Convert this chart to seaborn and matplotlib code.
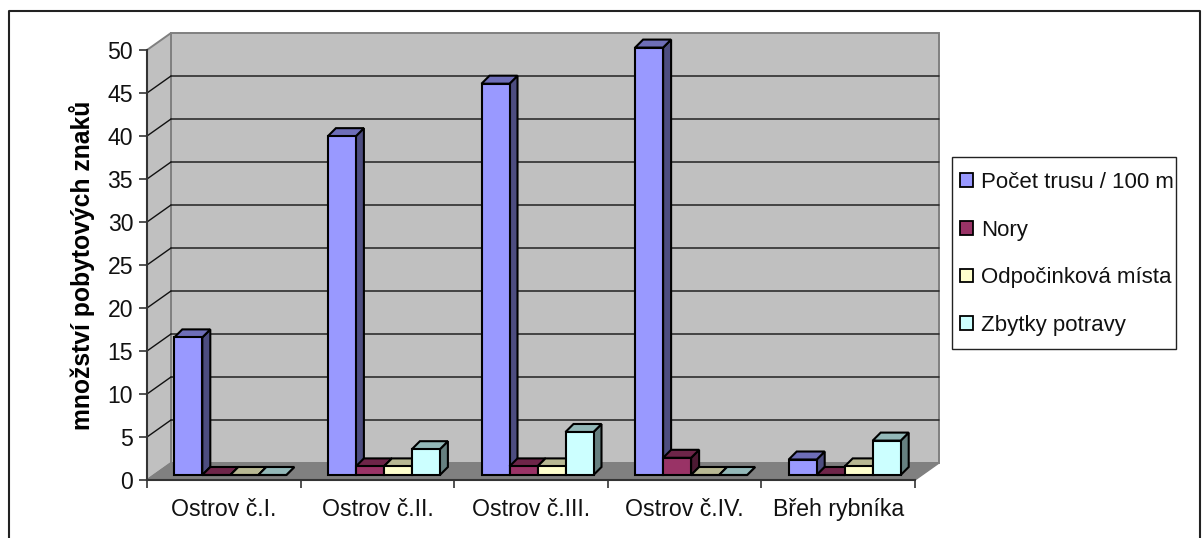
import matplotlib
matplotlib.use("Agg")
import matplotlib.pyplot as plt
import seaborn as sns
import pandas as pd
from matplotlib.colors import to_rgb
from matplotlib.lines import Line2D
from matplotlib.patches import Patch, Polygon, Rectangle
from matplotlib.transforms import ScaledTranslation

# Survey data
locations = ["Ostrov č.I.", "Ostrov č.II.", "Ostrov č.III.", "Ostrov č.IV.", "Břeh rybníka"]
droppings = [16, 39.4, 45.5, 49.7, 1.8]
burrows = [0, 1, 1, 2, 0]
resting_places = [0, 1, 1, 0, 1]
food_remains = [0, 3, 5, 0, 4]
series_names = ["Počet trusu / 100 m", "Nory", "Odpočinková místa", "Zbytky potravy"]
series_colors = ["#9999FF", "#993366", "#FFFFCC", "#CCFFFF"]
y_ticks = list(range(0, 55, 5))
y_title = "množství pobytových znaků"

FONT = "Liberation Sans"
W, H, DPI = 1202, 538, 100

sns.set_theme(style="white", rc={"font.family": FONT})
fig = plt.figure(figsize=(W / DPI, H / DPI), dpi=DPI, facecolor="white")
ax = fig.add_axes([147 / W, (H - 480) / H, 768 / W, 430 / H])
ax.patch.set_visible(False)

frame = pd.DataFrame({
    "place": locations * 4,
    "series": [s for s in series_names for _ in locations],
    "count": droppings + burrows + resting_places + food_remains,
})
sns.barplot(data=frame, x="place", y="count", hue="series", hue_order=series_names,
            palette=series_colors, width=112 / 153.6, gap=0, saturation=1,
            edgecolor="black", linewidth=1.5, legend=False, ax=ax)

ax.set_xlim(-0.5, 4.5)
ax.set_ylim(0, 50)
px_x = 5 / 768   # data units per pixel, horizontally
px_y = 50 / 430  # data units per pixel, vertically

# Pseudo-3D box: the walls sit behind the axis plane
depth_x, depth_y = 24 * px_x, 17 * px_y
to_back = ax.transData + ScaledTranslation(24 / DPI, 17 / DPI, fig.dpi_scale_trans)
wall_grey, floor_grey, edge_grey = "#C0C0C0", "#808080", "#808080"
ax.add_patch(Rectangle((-0.5, 0), 5, 50, transform=to_back, fc=wall_grey, ec=edge_grey,
                       lw=1.4, clip_on=False, zorder=0.1))
ax.add_patch(Polygon([(-0.5, 0), (-0.5, 50), (-0.5 + depth_x, 50 + depth_y), (-0.5 + depth_x, depth_y)],
                     fc=wall_grey, ec=edge_grey, lw=1.4, clip_on=False, zorder=0.1))
ax.add_patch(Polygon([(-0.5, 0), (4.5, 0), (4.5 + depth_x, depth_y), (-0.5 + depth_x, depth_y)],
                     fc=floor_grey, ec=edge_grey, lw=1, clip_on=False, zorder=0.2))
for tick in y_ticks[1:-1]:
    ax.add_line(Line2D([-0.5, 4.5], [tick, tick], transform=to_back, color="#222222", lw=1.1,
                       clip_on=False, zorder=0.3))
    ax.add_line(Line2D([-0.5, -0.5 + depth_x], [tick, tick + depth_y], color="#111111", lw=1,
                       clip_on=False, zorder=0.3))


def shade(color, factor):
    return tuple(c * factor for c in to_rgb(color))


# Extrude each seaborn bar into a small block standing on the floor
shift_x, shift_y = 6.5 * px_x, 5 * px_y
bar_dx, bar_dy = 8 * px_x, 8 * px_y
order = 10
bars = sorted((b for c in ax.containers for b in c), key=lambda b: b.get_x())
for bar in bars:
    color = bar.get_facecolor()
    x0 = bar.get_x() + shift_x
    y0 = shift_y
    w, h = bar.get_width(), bar.get_height()
    bar.set_xy((x0, y0))
    bar.set_clip_on(False)
    bar.set_zorder(order + 2)
    bar.set_joinstyle("miter")
    x1, y1 = x0 + w, y0 + h
    ax.add_patch(Polygon([(x1, y0), (x1 + bar_dx, y0 + bar_dy), (x1 + bar_dx, y1 + bar_dy), (x1, y1)],
                         fc=shade(color, 0.5), ec="black", lw=1.5, clip_on=False, zorder=order))
    ax.add_patch(Polygon([(x0, y1), (x1, y1), (x1 + bar_dx, y1 + bar_dy), (x0 + bar_dx, y1 + bar_dy)],
                         fc=shade(color, 0.72), ec="black", lw=1.5, clip_on=False, zorder=order + 1))
    order += 3

# Axes
for side in ("top", "right"):
    ax.spines[side].set_visible(False)
for side in ("left", "bottom"):
    ax.spines[side].set_color("#333333")
    ax.spines[side].set_linewidth(1.5)
    ax.spines[side].set_zorder(5)

ax.set_xlabel("")
ax.set_ylabel(y_title, fontsize=17.8, fontweight="bold", color="black", labelpad=9, family=FONT)
ax.set_yticks(y_ticks)
ax.set_xticks(range(len(locations)))
ax.set_xticklabels(locations)
ax.set_xticks([i - 0.5 for i in range(len(locations) + 1)], minor=True)
ax.tick_params(axis="y", which="major", left=True, length=6, width=1.2, color="#333333",
               labelsize=16.6, labelcolor="#111111", pad=4)
ax.tick_params(axis="x", which="major", bottom=False, length=0, labelsize=16.7,
               labelcolor="#111111", pad=13)
ax.tick_params(axis="x", which="minor", bottom=True, length=6, width=1.2, color="#333333")
for label in ax.get_xticklabels() + ax.get_yticklabels():
    label.set_family(FONT)

# Legend: a frame box with a borderless legend laid over it
fig.add_artist(Rectangle((952 / W, 1 - 349 / H), 224 / W, 192 / H, transform=fig.transFigure,
                         fc="white", ec="#222222", lw=1))
handles = [Patch(fc=c, ec="black", lw=1.3) for c in series_colors]
legend = fig.legend(handles, series_names, loc="upper left",
                    bbox_to_anchor=(960 / W, 1 - 172 / H), bbox_transform=fig.transFigure,
                    prop={"family": FONT, "size": 16}, labelcolor="#111111",
                    frameon=False, borderaxespad=0, borderpad=0, labelspacing=1.2,
                    handlelength=0.58, handleheight=0.58, handletextpad=0.35)

# Chart border, cut off by the lower image edge
fig.add_artist(Line2D([8.5 / W, 8.5 / W, 1200 / W, 1200 / W],
                      [0, 1 - 11 / H, 1 - 11 / H, 0],
                      transform=fig.transFigure, color="#222222", lw=1.5))

fig.savefig("out.png", dpi=DPI)
